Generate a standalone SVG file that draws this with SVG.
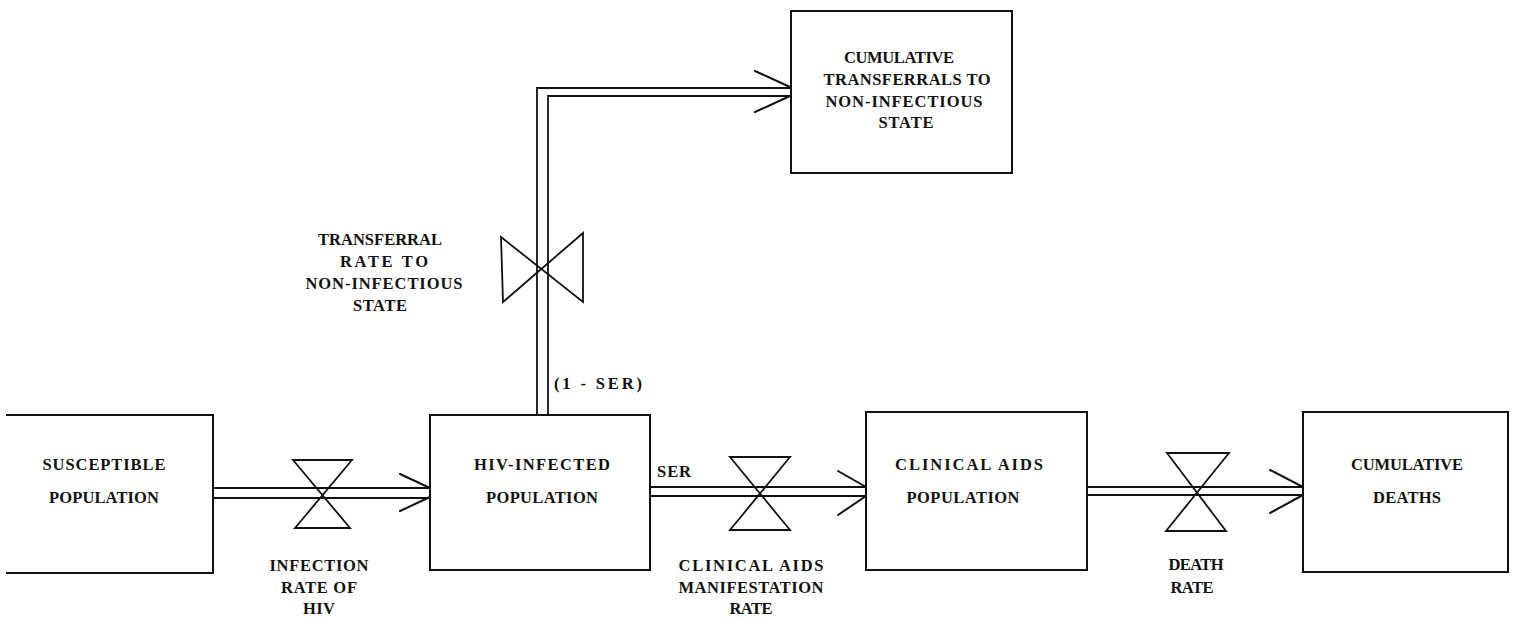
<svg xmlns="http://www.w3.org/2000/svg" width="1515" height="618" viewBox="0 0 1515 618">
<style>
.box{fill:none;stroke:#111;stroke-width:2}
.flow{fill:none;stroke:#111;stroke-width:1.8}
.valve{fill:none;stroke:#111;stroke-width:1.8;stroke-linejoin:miter}
.head{fill:none;stroke:#111;stroke-width:2;stroke-linecap:round}
text{font-family:"Liberation Serif","DejaVu Serif",serif;font-weight:bold;font-size:16.5px;fill:#111;text-anchor:middle}
.l{text-anchor:start}
</style>
<rect width="1515" height="618" fill="#fff"/>

<g id="connectors">
  <g id="flow-infection">
    <line class="flow" x1="214" y1="488" x2="430" y2="488"/>
    <line class="flow" x1="214" y1="498" x2="430" y2="498"/>
    <path class="head" d="M400,474 L430,488 M400,511 L430,497"/>
  </g>
  <g id="flow-manifestation">
    <line class="flow" x1="650" y1="487" x2="866" y2="487"/>
    <line class="flow" x1="650" y1="496" x2="866" y2="496"/>
    <path class="head" d="M838,471 L866,487 M838,515 L866,496"/>
  </g>
  <g id="flow-death">
    <line class="flow" x1="1087" y1="487" x2="1303" y2="487"/>
    <line class="flow" x1="1087" y1="495" x2="1303" y2="495"/>
    <path class="head" d="M1270,470 L1303,487 M1270,513 L1303,495"/>
  </g>
  <g id="flow-transferral">
    <path class="flow" d="M537,415 L537,88 L791,88"/>
    <path class="flow" d="M548,415 L548,96 L791,96"/>
    <path class="head" d="M755,71 L790,87 M755,112 L790,96"/>
  </g>
</g>

<g id="valve-infection">
  <path class="valve" d="M293,460 L352,460 L295,528 L350,528 Z"/>
  <text x="319" y="571" textLength="99" lengthAdjust="spacing">INFECTION</text>
  <text x="319" y="593" textLength="76" lengthAdjust="spacing">RATE OF</text>
  <text x="319" y="614" textLength="32" lengthAdjust="spacing">HIV</text>
</g>

<g id="valve-manifestation">
  <path class="valve" d="M730,457 L790,457 L730,530 L790,530 Z"/>
  <text x="751" y="571" textLength="145" lengthAdjust="spacing">CLINICAL AIDS</text>
  <text x="751" y="593" textLength="145" lengthAdjust="spacing">MANIFESTATION</text>
  <text x="751" y="614" textLength="43" lengthAdjust="spacing">RATE</text>
</g>

<g id="valve-death">
  <path class="valve" d="M1167,453 L1229,453 L1166,531 L1226,531 Z"/>
  <text x="1196" y="570" textLength="55" lengthAdjust="spacing">DEATH</text>
  <text x="1192" y="593" textLength="43" lengthAdjust="spacing">RATE</text>
</g>

<g id="valve-transferral">
  <path class="valve" d="M501,237 L583,302 L583,233 L503,302 Z"/>
  <text x="380" y="245" textLength="124" lengthAdjust="spacing">TRANSFERRAL</text>
  <text x="384" y="267" textLength="88" lengthAdjust="spacing">RATE  TO</text>
  <text x="384" y="289" textLength="157" lengthAdjust="spacing">NON-INFECTIOUS</text>
  <text x="380" y="311" textLength="54" lengthAdjust="spacing">STATE</text>
</g>

<g id="node-susceptible">
  <path class="box" d="M6,415 L213,415 L213,573 L6,573"/>
  <text x="104" y="470" textLength="123" lengthAdjust="spacing">SUSCEPTIBLE</text>
  <text x="104" y="503" textLength="110" lengthAdjust="spacing">POPULATION</text>
</g>

<g id="node-hiv">
  <rect class="box" x="430" y="415" width="220" height="155"/>
  <text x="542" y="470" textLength="136" lengthAdjust="spacing">HIV-INFECTED</text>
  <text x="542" y="503" textLength="112" lengthAdjust="spacing">POPULATION</text>
  <text class="l" x="657" y="477" textLength="34" lengthAdjust="spacing">SER</text>
  <text class="l" x="554" y="389" textLength="88" lengthAdjust="spacing">(1 - SER)</text>
</g>

<g id="node-clinical">
  <rect class="box" x="866" y="412" width="221" height="158"/>
  <text x="969" y="470" textLength="148" lengthAdjust="spacing">CLINICAL AIDS</text>
  <text x="963" y="503" textLength="113" lengthAdjust="spacing">POPULATION</text>
</g>

<g id="node-deaths">
  <rect class="box" x="1303" y="412" width="205" height="160"/>
  <text x="1407" y="470" textLength="112" lengthAdjust="spacing">CUMULATIVE</text>
  <text x="1407" y="503" textLength="68" lengthAdjust="spacing">DEATHS</text>
</g>

<g id="node-transferrals">
  <rect class="box" x="791" y="11" width="221" height="162"/>
  <text x="899" y="63" textLength="110" lengthAdjust="spacing">CUMULATIVE</text>
  <text x="907" y="85" textLength="167" lengthAdjust="spacing">TRANSFERRALS TO</text>
  <text x="904" y="107" textLength="157" lengthAdjust="spacing">NON-INFECTIOUS</text>
  <text x="906" y="128" textLength="55" lengthAdjust="spacing">STATE</text>
</g>
</svg>
